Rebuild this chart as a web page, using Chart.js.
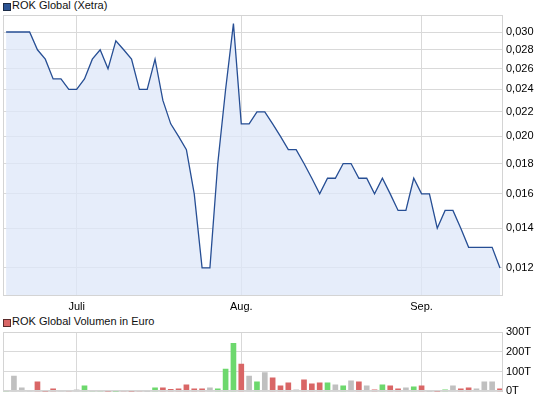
<!DOCTYPE html>
<html>
<head>
<meta charset="utf-8">
<script src="https://cdn.jsdelivr.net/npm/chart.js@4/dist/chart.umd.min.js"></script>
<style>
  body { margin: 0; background: #fff; width: 545px; height: 401px; overflow: hidden; position: relative; }
  .legend { position: absolute; left: 12px; font: 11px "Liberation Sans", Arial, sans-serif; color: #111; line-height: 13px; white-space: nowrap; }
  .box { position: absolute; left: 3px; width: 6px; height: 6px; border: 1px solid #1c2b46; }
  #priceWrap { position: absolute; left: 0; top: 0; }
  #volWrap { position: absolute; left: 0; top: 312px; }
</style>
</head>
<body>
<div class="box" style="top:3px;background:#2b5393"></div>
<div class="legend" style="top:-1px">ROK Global (Xetra)</div>
<div class="box" style="top:319px;background:#d96666;border-color:#5a2a2a"></div>
<div class="legend" style="top:315px">ROK Global Volumen in Euro</div>
<div id="priceWrap"><canvas id="price" width="545" height="315"></canvas></div>
<div id="volWrap"><canvas id="vol" width="545" height="89"></canvas></div>
<script>
// Handelstage 20.06.2011 - 15.09.2011, Index 0..63
const monthStarts = [9, 30, 53];
const monthLabels = ['Juli', 'Aug.', 'Sep.'];

// Schlusskurse in Euro
const prices = [
  0.030, 0.030, 0.030, 0.030, 0.028, 0.027, 0.025, 0.025, 0.024, 0.024,
  0.025, 0.027, 0.028, 0.026, 0.029, 0.028, 0.027, 0.024, 0.024, 0.027,
  0.023, 0.021, 0.020, 0.019, 0.016, 0.012, 0.012, 0.018, 0.024, 0.031,
  0.021, 0.021, 0.022, 0.022, 0.021, 0.020, 0.019, 0.019, 0.018, 0.017,
  0.016, 0.017, 0.017, 0.018, 0.018, 0.017, 0.017, 0.016, 0.017, 0.016,
  0.015, 0.015, 0.017, 0.016, 0.016, 0.014, 0.015, 0.015, 0.014, 0.013,
  0.013, 0.013, 0.013, 0.012
];

// Volumen in Tausend Euro
const volumes = [
  5, 78, 18, 5, 48, 0, 13, 5, 5, 8,
  28, 5, 5, 0, 0, 5, 0, 5, 0, 18,
  18, 10, 13, 33, 13, 13, 18, 13, 113, 243,
  138, 78, 48, 95, 68, 28, 43, 8, 58, 38,
  43, 43, 33, 28, 53, 48, 28, 8, 33, 28,
  13, 18, 23, 28, 0, 0, 8, 28, 13, 18,
  13, 48, 48, 13
];

const priceTicks = [0.012, 0.014, 0.016, 0.018, 0.020, 0.022, 0.024, 0.026, 0.028, 0.030];
const volTicks = [0, 100, 200, 300];

const FONT = { family: '"Liberation Sans", Arial, sans-serif', size: 11 };
const GRID = '#d9d9d9';
const UP = '#6dd86d', DOWN = '#d96666', FLAT = '#c0c0c0';

Chart.defaults.font = FONT;
Chart.defaults.color = '#000';

// Rahmen um die Plotfläche
const frame = {
  id: 'frame',
  afterDraw(chart) {
    const a = chart.chartArea, c = chart.ctx;
    c.save();
    c.strokeStyle = '#d4d4d4';
    c.lineWidth = 1;
    c.strokeRect(Math.round(a.left) + 0.5, Math.round(a.top) + 0.5,
      Math.round(a.right - a.left) - 1, Math.round(a.bottom - a.top) - 1);
    c.restore();
  }
};

const xMin = -0.395, xMax = 63.385;

function xAxis(showLabels, height) {
  return {
    type: 'linear',
    min: xMin,
    max: xMax,
    offset: false,
    afterBuildTicks: s => { s.ticks = monthStarts.map(v => ({ value: v })); },
    afterFit: s => { s.height = height; },
    grid: { color: GRID, drawTicks: false, offset: false },
    border: { display: false },
    ticks: {
      display: showLabels,
      autoSkip: false,
      maxRotation: 0,
      padding: 4,
      callback: v => monthLabels[monthStarts.indexOf(v)]
    }
  };
}

const idx = prices.map((p, i) => i);

new Chart(document.getElementById('price'), {
  type: 'line',
  data: {
    datasets: [{
      data: idx.map(i => ({ x: i, y: prices[i] })),
      borderColor: '#264e94',
      borderWidth: 1.3,
      backgroundColor: 'rgba(222, 231, 248, 0.75)',
      fill: 'start',
      pointRadius: 0,
      tension: 0
    }]
  },
  options: {
    responsive: false,
    animation: false,
    layout: { padding: { left: 3, top: 15, right: 0, bottom: 0 } },
    plugins: { legend: { display: false }, tooltip: { enabled: false } },
    scales: {
      x: xAxis(true, 19),
      y: {
        type: 'logarithmic',
        position: 'right',
        min: 0.01076,
        max: 0.03205,
        afterBuildTicks: s => { s.ticks = priceTicks.map(v => ({ value: v })); },
        afterFit: s => { s.width = 42; },
        grid: { color: GRID, drawTicks: false },
        border: { display: false },
        ticks: {
          padding: 3,
          autoSkip: false,
          callback: v => v.toFixed(3).replace('.', ',')
        }
      }
    }
  },
  plugins: [frame]
});

// Farbe nach Kursveränderung zum Vortag
const volColors = volumes.map((v, i) => {
  if (i === 0 || prices[i] > prices[i - 1]) return UP;
  if (prices[i] < prices[i - 1]) return DOWN;
  return FLAT;
});

new Chart(document.getElementById('vol'), {
  type: 'bar',
  data: {
    datasets: [{
      data: idx.map(i => ({ x: i, y: volumes[i] })),
      backgroundColor: volColors,
      barThickness: 5,
      borderWidth: 0
    }]
  },
  options: {
    responsive: false,
    animation: false,
    layout: { padding: { left: 3, top: 20, right: 0, bottom: 0 } },
    plugins: { legend: { display: false }, tooltip: { enabled: false } },
    scales: {
      x: xAxis(false, 9),
      y: {
        position: 'right',
        min: 0,
        max: 300,
        afterBuildTicks: s => { s.ticks = volTicks.map(v => ({ value: v })); },
        afterFit: s => { s.width = 42; },
        grid: { color: GRID, drawTicks: false },
        border: { display: false },
        ticks: { padding: 3, callback: v => v + 'T' }
      }
    }
  },
  plugins: [frame]
});
</script>
</body>
</html>
